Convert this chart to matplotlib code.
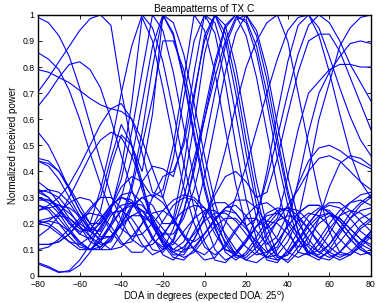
import numpy as np
import matplotlib
matplotlib.use('Agg')
import matplotlib.pyplot as plt

# DOA grid (degrees)
doa = np.arange(-80, 81, 5)

# normalized beampatterns, one list per steering vector
bp01 = [0.99,0.97,0.92,0.84,0.72,0.58,0.44,0.31,0.21,0.14,0.11,
        0.12,0.16,0.21,0.25,0.27,0.26,0.22,0.16,0.1,0.06,0.05,
        0.08,0.13,0.19,0.24,0.27,0.27,0.24,0.19,0.14,0.1,0.08]
bp02 = [0.705,0.76,0.82,0.88,0.94,0.985,1.0,0.96,0.71,0.5,0.33,
        0.2,0.12,0.09,0.11,0.16,0.21,0.24,0.24,0.21,0.16,0.11,
        0.07,0.06,0.09,0.14,0.2,0.25,0.28,0.28,0.25,0.21,0.17]
bp03 = [0.855,0.83,0.79,0.71,0.6,0.47,0.35,0.25,0.18,0.15,0.16,
        0.2,0.25,0.29,0.31,0.3,0.26,0.2,0.13,0.08,0.06,0.09,
        0.14,0.21,0.27,0.33,0.4,0.45,0.46,0.44,0.4,0.36,0.33]
bp04 = [0.79,0.78,0.76,0.74,0.71,0.68,0.655,0.64,0.63,0.6,0.52,
        0.41,0.3,0.21,0.15,0.13,0.16,0.21,0.26,0.29,0.29,0.26,
        0.2,0.14,0.09,0.07,0.09,0.14,0.2,0.25,0.28,0.29,0.27]
bp05 = [0.65,0.7,0.76,0.81,0.82,0.79,0.72,0.6,0.46,0.33,0.22,
        0.14,0.11,0.12,0.17,0.22,0.25,0.25,0.21,0.16,0.11,0.08,
        0.09,0.13,0.19,0.24,0.27,0.27,0.24,0.19,0.14,0.1,0.08]
bp06 = [0.32,0.3,0.26,0.2,0.16,0.2,0.33,0.5,0.7,0.88,1.0,
        0.95,0.82,0.63,0.43,0.26,0.13,0.06,0.05,0.09,0.14,0.19,
        0.21,0.2,0.16,0.11,0.12,0.22,0.34,0.43,0.46,0.45,0.42]
bp07 = [0.45,0.44,0.4,0.33,0.25,0.18,0.17,0.25,0.41,0.66,0.99,
        0.9,0.72,0.52,0.34,0.2,0.11,0.08,0.11,0.17,0.23,0.27,
        0.28,0.25,0.2,0.14,0.09,0.07,0.09,0.13,0.18,0.22,0.24]
bp08 = [0.55,0.5,0.42,0.33,0.25,0.2,0.2,0.26,0.37,0.55,0.78,
        1.0,0.94,0.78,0.57,0.37,0.21,0.1,0.06,0.08,0.13,0.19,
        0.23,0.24,0.21,0.16,0.11,0.07,0.06,0.09,0.14,0.19,0.22]
bp09 = [0.12,0.12,0.13,0.16,0.2,0.25,0.3,0.45,0.58,0.5,0.4,
        0.62,1.0,0.93,0.76,0.55,0.35,0.19,0.09,0.06,0.09,0.15,
        0.21,0.25,0.26,0.23,0.18,0.12,0.08,0.06,0.08,0.12,0.16]
bp10 = [0.33,0.32,0.3,0.25,0.19,0.13,0.11,0.14,0.22,0.35,0.55,
        0.8,1.0,0.97,0.85,0.66,0.46,0.28,0.15,0.08,0.07,0.11,
        0.16,0.21,0.23,0.22,0.18,0.13,0.09,0.07,0.09,0.13,0.17]
bp11 = [0.21,0.22,0.23,0.22,0.19,0.15,0.12,0.13,0.2,0.33,0.5,
        0.68,0.9,0.9,0.79,0.6,0.4,0.23,0.12,0.07,0.08,0.13,
        0.19,0.24,0.26,0.25,0.21,0.16,0.11,0.08,0.08,0.11,0.15]
bp12 = [0.27,0.26,0.22,0.17,0.12,0.1,0.13,0.2,0.3,0.45,0.66,
        0.88,1.0,0.92,0.75,0.53,0.33,0.18,0.1,0.09,0.13,0.19,
        0.24,0.26,0.25,0.2,0.14,0.09,0.07,0.09,0.13,0.18,0.21]
bp13 = [0.25,0.27,0.3,0.35,0.42,0.5,0.58,0.64,0.66,0.6,0.47,
        0.32,0.3,0.45,0.68,0.9,1.0,0.93,0.74,0.5,0.29,0.14,
        0.06,0.05,0.1,0.17,0.23,0.26,0.25,0.21,0.16,0.12,0.1]
bp14 = [0.3,0.29,0.26,0.21,0.16,0.14,0.18,0.26,0.34,0.38,0.36,
        0.3,0.33,0.5,0.75,1.0,0.94,0.78,0.56,0.35,0.19,0.09,
        0.07,0.1,0.16,0.21,0.24,0.23,0.19,0.14,0.1,0.08,0.09]
bp15 = [0.44,0.43,0.4,0.34,0.27,0.2,0.15,0.15,0.2,0.27,0.3,
        0.27,0.2,0.2,0.35,0.58,0.85,1.0,0.96,0.8,0.58,0.36,
        0.19,0.08,0.05,0.09,0.15,0.2,0.23,0.22,0.18,0.14,0.11]
bp16 = [0.2,0.21,0.24,0.28,0.3,0.29,0.24,0.17,0.12,0.13,0.2,
        0.3,0.38,0.4,0.5,0.7,0.9,1.0,0.93,0.75,0.52,0.31,
        0.15,0.07,0.06,0.11,0.17,0.22,0.24,0.22,0.18,0.14,0.12]
bp17 = [0.15,0.18,0.23,0.3,0.38,0.46,0.52,0.55,0.53,0.46,0.35,
        0.22,0.15,0.22,0.42,0.68,0.92,1.0,0.9,0.7,0.47,0.27,
        0.13,0.07,0.08,0.13,0.19,0.23,0.24,0.21,0.16,0.11,0.08]
bp18 = [0.32,0.33,0.32,0.28,0.22,0.15,0.1,0.1,0.16,0.26,0.36,
        0.42,0.41,0.38,0.52,0.78,1.0,0.97,0.83,0.62,0.4,0.22,
        0.1,0.06,0.08,0.14,0.2,0.25,0.27,0.26,0.22,0.17,0.14]
bp19 = [0.05,0.035,0.015,0.015,0.04,0.09,0.16,0.23,0.27,0.28,0.25,
        0.2,0.16,0.16,0.22,0.33,0.5,0.7,0.88,0.98,1.0,0.92,
        0.75,0.53,0.33,0.17,0.08,0.06,0.1,0.16,0.22,0.27,0.3]
bp20 = [0.045,0.03,0.012,0.02,0.06,0.12,0.19,0.24,0.25,0.22,0.16,
        0.1,0.09,0.14,0.25,0.4,0.6,0.8,0.95,1.0,0.97,0.85,
        0.66,0.45,0.27,0.14,0.08,0.1,0.16,0.23,0.28,0.31,0.32]
bp21 = [0.12,0.12,0.13,0.16,0.21,0.26,0.3,0.3,0.26,0.19,0.12,
        0.08,0.1,0.18,0.3,0.45,0.6,0.76,0.9,0.99,0.98,0.88,
        0.7,0.5,0.31,0.17,0.09,0.08,0.12,0.18,0.24,0.28,0.31]
bp22 = [0.29,0.29,0.27,0.24,0.2,0.17,0.25,0.42,0.54,0.5,0.36,
        0.19,0.13,0.1,0.13,0.22,0.38,0.58,0.78,0.93,1.0,0.94,
        0.79,0.58,0.38,0.22,0.12,0.09,0.12,0.17,0.22,0.25,0.26]
bp23 = [0.36,0.33,0.28,0.22,0.18,0.17,0.2,0.26,0.31,0.32,0.28,
        0.21,0.13,0.08,0.08,0.14,0.22,0.33,0.48,0.65,0.8,0.9,
        0.97,1.0,0.9,0.7,0.5,0.31,0.17,0.09,0.08,0.12,0.17]
bp24 = [0.2,0.21,0.2,0.17,0.13,0.1,0.1,0.14,0.2,0.26,0.3,
        0.31,0.28,0.22,0.15,0.1,0.08,0.12,0.2,0.3,0.42,0.56,
        0.7,0.83,0.94,0.99,1.0,0.92,0.78,0.62,0.47,0.36,0.3]
bp25 = [0.1,0.11,0.14,0.18,0.22,0.24,0.23,0.19,0.13,0.09,0.09,
        0.14,0.21,0.27,0.3,0.29,0.24,0.16,0.1,0.08,0.13,0.23,
        0.37,0.53,0.7,0.85,0.96,1.0,0.97,0.9,0.81,0.74,0.67]
bp26 = [0.27,0.25,0.2,0.15,0.11,0.1,0.13,0.19,0.25,0.28,0.27,
        0.22,0.15,0.1,0.09,0.14,0.22,0.31,0.38,0.4,0.36,0.3,
        0.32,0.45,0.62,0.78,0.9,0.926,0.926,0.86,0.76,0.66,0.56]
bp27 = [0.21,0.2,0.17,0.13,0.1,0.1,0.14,0.2,0.25,0.27,0.25,
        0.19,0.12,0.07,0.06,0.1,0.16,0.22,0.25,0.24,0.19,0.12,
        0.07,0.08,0.13,0.22,0.4,0.6,0.74,0.88,0.95,0.99,1.0]
bp28 = [0.3,0.28,0.24,0.18,0.13,0.1,0.11,0.15,0.2,0.23,0.23,
        0.2,0.14,0.09,0.07,0.09,0.14,0.19,0.22,0.22,0.18,0.13,
        0.09,0.11,0.2,0.36,0.55,0.7,0.78,0.84,0.89,0.9,0.89]
bp29 = [0.25,0.26,0.27,0.26,0.23,0.18,0.13,0.1,0.11,0.15,0.2,
        0.24,0.25,0.22,0.16,0.1,0.06,0.07,0.12,0.18,0.22,0.22,
        0.18,0.22,0.38,0.56,0.7,0.745,0.79,0.81,0.81,0.8,0.8]
bp30 = [0.33,0.3,0.25,0.2,0.17,0.18,0.22,0.27,0.3,0.29,0.23,
        0.15,0.08,0.06,0.1,0.17,0.24,0.28,0.28,0.24,0.19,0.22,
        0.4,0.62,0.82,0.96,1.0,0.95,0.84,0.72,0.61,0.52,0.46]
bp31 = [0.44,0.42,0.37,0.3,0.23,0.17,0.14,0.15,0.19,0.23,0.25,
        0.23,0.18,0.13,0.1,0.11,0.16,0.22,0.26,0.27,0.23,0.17,
        0.12,0.15,0.24,0.35,0.44,0.49,0.5,0.48,0.45,0.43,0.41]
bp32 = [0.2,0.19,0.16,0.13,0.12,0.15,0.21,0.27,0.3,0.28,0.22,
        0.14,0.1,0.13,0.24,0.42,0.63,0.82,0.96,1.0,0.92,0.76,
        0.55,0.34,0.18,0.09,0.08,0.12,0.18,0.23,0.25,0.24,0.21]

patterns = [bp01, bp02, bp03, bp04, bp05, bp06, bp07, bp08, bp09, bp10,
            bp11, bp12, bp13, bp14, bp15, bp16, bp17, bp18, bp19, bp20,
            bp21, bp22, bp23, bp24, bp25, bp26, bp27, bp28, bp29, bp30,
            bp31, bp32]

plt.rcParams['font.family'] = ['Liberation Sans', 'DejaVu Sans']

fig = plt.figure(figsize=(3.77, 3.03), dpi=100)
ax = fig.add_axes([0.101, 0.09, 0.883, 0.861])

for p in patterns:
    ax.plot(doa, p, color=(0, 0, 1), linewidth=0.8)

ax.set_xlim(-80, 80)
ax.set_ylim(0, 1)
ax.set_xticks(np.arange(-80, 81, 20))
ax.set_yticks(np.arange(0, 1.01, 0.1))
ax.set_yticklabels(['0', '0.1', '0.2', '0.3', '0.4', '0.5', '0.6', '0.7', '0.8', '0.9', '1'])
ax.tick_params(direction='in', top=True, right=True, labelsize=6.3, length=3, width=0.6)
ax.tick_params(axis='x', pad=3.2)
ax.tick_params(axis='y', pad=2.5)
for s in ax.spines.values():
    s.set_linewidth(1.0)

ax.set_title('Beampatterns of TX C', fontsize=7.3, pad=2)
ax.set_xlabel('DOA in degrees (expected DOA: 25$^{\\mathrm{o}}$)', fontsize=6.9, labelpad=0)
ax.set_ylabel('Normalized received power', fontsize=7, labelpad=3)

fig.savefig('out.png', dpi=100)
